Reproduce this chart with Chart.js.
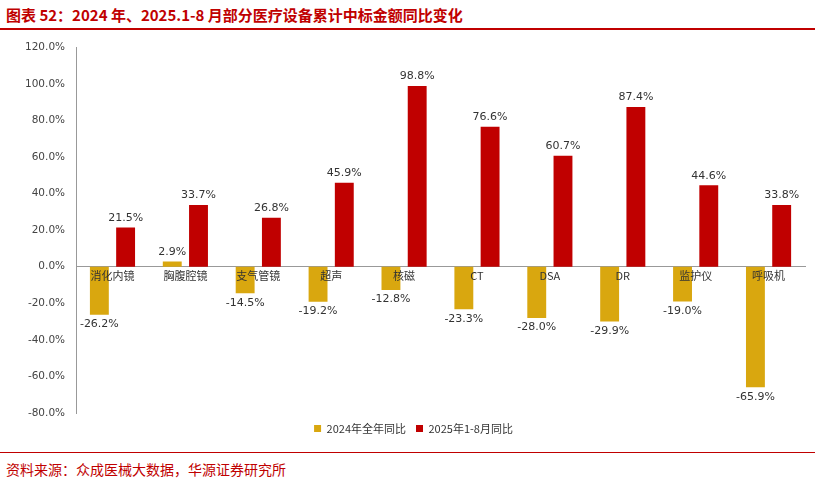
<!DOCTYPE html>
<html>
<head>
<meta charset="utf-8">
<script src="https://cdn.jsdelivr.net/npm/chart.js@4"></script>
<style>
body { margin: 0; width: 815px; height: 485px; background: #fff; font-family: "Noto Sans CJK SC", sans-serif; position: relative; overflow: hidden; }
#title { position: absolute; left: 6px; top: 4px; font-size: 15px; font-weight: bold; color: #C00000; }
#topline { position: absolute; left: 0; top: 28px; width: 815px; height: 2px; background: #C00000; }
#box { position: absolute; left: 0; top: 38px; width: 815px; height: 406px; }
#botline { position: absolute; left: 0; top: 452px; width: 815px; height: 1px; background: #C00000; }
#src { position: absolute; left: 6px; top: 459px; font-size: 14px; color: #C00000; }
</style>
</head>
<body>
<div id="title">图表 52：2024 年、2025.1-8 月部分医疗设备累计中标金额同比变化</div>
<div id="topline"></div>
<div id="box"><canvas id="c"></canvas></div>
<div id="botline"></div>
<div id="src">资料来源：众成医械大数据，华源证券研究所</div>
<script>
const categories = ['消化内镜', '胸腹腔镜', '支气管镜', '超声', '核磁', 'CT', 'DSA', 'DR', '监护仪', '呼吸机'];
const yoy2024 = [-26.2, 2.9, -14.5, -19.2, -12.8, -23.3, -28.0, -29.9, -19.0, -65.9];
const yoy2025 = [21.5, 33.7, 26.8, 45.9, 98.8, 76.6, 60.7, 87.4, 44.6, 33.8];

const labelPlugin = {
  id: 'labels',
  afterDatasetsDraw(chart) {
    const ctx = chart.ctx;
    ctx.save();
    ctx.fillStyle = '#333';
    ctx.textAlign = 'center';
    ctx.font = '11px "DejaVu Sans"';
    chart.data.datasets.forEach((ds, i) => {
      chart.getDatasetMeta(i).data.forEach((bar, j) => {
        const v = ds.data[j];
        ctx.textBaseline = v >= 0 ? 'bottom' : 'top';
        ctx.fillText(v.toFixed(1) + '%', bar.x, v >= 0 ? bar.y - 4 : bar.y + 4);
      });
    });
    // category names drawn over the bars, just under the zero line
    const x = chart.scales.x, y0 = chart.scales.y.getPixelForValue(0);
    ctx.font = '11px "Noto Sans CJK SC"';
    ctx.textBaseline = 'top';
    categories.forEach((c, j) => ctx.fillText(c, x.getPixelForValue(j), y0 + 4));
    ctx.restore();
  }
};

new Chart(document.getElementById('c'), {
  type: 'bar',
  data: {
    labels: categories,
    datasets: [
      { label: '2024年全年同比', data: yoy2024, backgroundColor: '#D9A70F', barPercentage: 0.72, categoryPercentage: 0.72 },
      { label: '2025年1-8月同比', data: yoy2025, backgroundColor: '#C00000', barPercentage: 0.72, categoryPercentage: 0.72 }
    ]
  },
  options: {
    responsive: true,
    maintainAspectRatio: false,
    animation: false,
    layout: { padding: { left: 22, right: 10, top: 2 } },
    plugins: {
      legend: {
        position: 'bottom',
        labels: { boxWidth: 7, boxHeight: 7, font: { size: 11, family: '"Noto Sans CJK SC"' }, color: '#333' }
      },
      tooltip: { enabled: false }
    },
    scales: {
      x: {
        position: { y: 0 },
        grid: { display: false },
        border: { color: '#999' },
        ticks: { display: false }
      },
      y: {
        min: -80, max: 120,
        ticks: { stepSize: 20, color: '#444', font: { size: 10.5, family: '"DejaVu Sans"' }, callback: v => v.toFixed(1) + '%' },
        grid: { display: false },
        border: { color: '#999' }
      }
    }
  },
  plugins: [labelPlugin]
});
</script>
</body>
</html>
